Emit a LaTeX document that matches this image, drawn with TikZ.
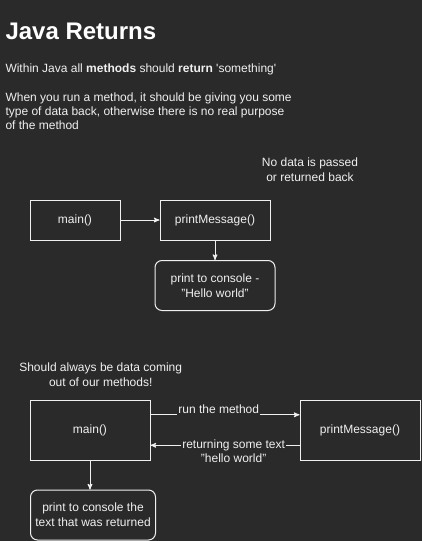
\documentclass[tikz,border=0pt]{standalone}
\usepackage{fontspec}
\setmainfont{Liberation Sans}
\usetikzlibrary{arrows, positioning, calc}
\definecolor{canvas}{HTML}{2A2A2A}
\definecolor{ink}{HTML}{F0F0F0}

\begin{document}
\begin{tikzpicture}[x=1pt,y=-1pt,>=stealth',line width=1pt,color=ink,node font=\fontsize{12}{14}\selectfont,on grid]
	\tikzstyle{method}=[draw, minimum height=40pt, inner sep=0pt]
	\tikzstyle{console}=[draw, rounded corners=7pt, minimum height=50pt, align=center, inner sep=0pt, font=\fontsize{12}{15}\selectfont]
	\tikzstyle{note}=[align=center, inner sep=0pt, font=\fontsize{12}{15}\selectfont]
	\tikzstyle{edgetext}=[fill=canvas, inner xsep=1pt, inner ysep=2pt]
	
	\fill[canvas] (0,0) rectangle (422,541);
	\useasboundingbox (0,0) rectangle (422,541);
	
	% heading and intro text
	\node[anchor=base west, inner sep=0pt, text=white, font=\fontsize{24}{28}\selectfont\bfseries] (title) at (5,39) {Java Returns};
	\node[anchor=base west, inner sep=0pt] (intro) at (5,72.3) {Within Java all \textbf{methods} should \textbf{return} \textquotesingle something\textquotesingle};
	\node[anchor=base west, inner sep=0pt, align=left] (purpose) at (5,129) {When you run a method, it should be giving you some\\type of data back, otherwise there is no real purpose\\of the method};
	
	% no data example
	\node[note, anchor=base] (nodata) at (310,181.7) {No data is passed\\or returned back};
	\node[method, minimum width=90pt] (main1) at (75,220) {main()};
	\node[method, minimum width=110pt] (print1) [right=140pt of main1] {printMessage()};
	\node[console, minimum width=120pt] (console1) [below=65.5pt of print1] {print to console -\\"Hello world"};
	
	\draw[->] (main1) -- (print1);
	\draw[->] (print1) -- (console1);
	
	% returning example
	\node[note, anchor=base] (should) at (100.7,386.7) {Should always be data coming\\out of our methods!};
	\node[method, minimum width=120pt, minimum height=60pt] (main2) at (90,430) {main()};
	\node[method, minimum width=120pt, minimum height=60pt] (print2) [right=270pt of main2] {printMessage()};
	\node[console, minimum width=125pt] (console2) [below=85pt of main2, xshift=3pt] {print to console the\\text that was returned};
	
	\draw[->] ($(main2.north east)!.25!(main2.south east)$) -- ($(print2.north west)!.25!(print2.south west)$)
		node[edgetext, pos=.458, anchor=base, yshift=1.5pt] {run the method};
	\draw[->] ($(print2.north west)!.75!(print2.south west)$) -- ($(main2.north east)!.75!(main2.south east)$)
		node[edgetext, align=center, pos=.442, anchor=base, yshift=-17.6pt] {returning some text\\"hello world"};
	\draw[->] (main2) -- (main2.south |- console2.north);
\end{tikzpicture}
\end{document}
